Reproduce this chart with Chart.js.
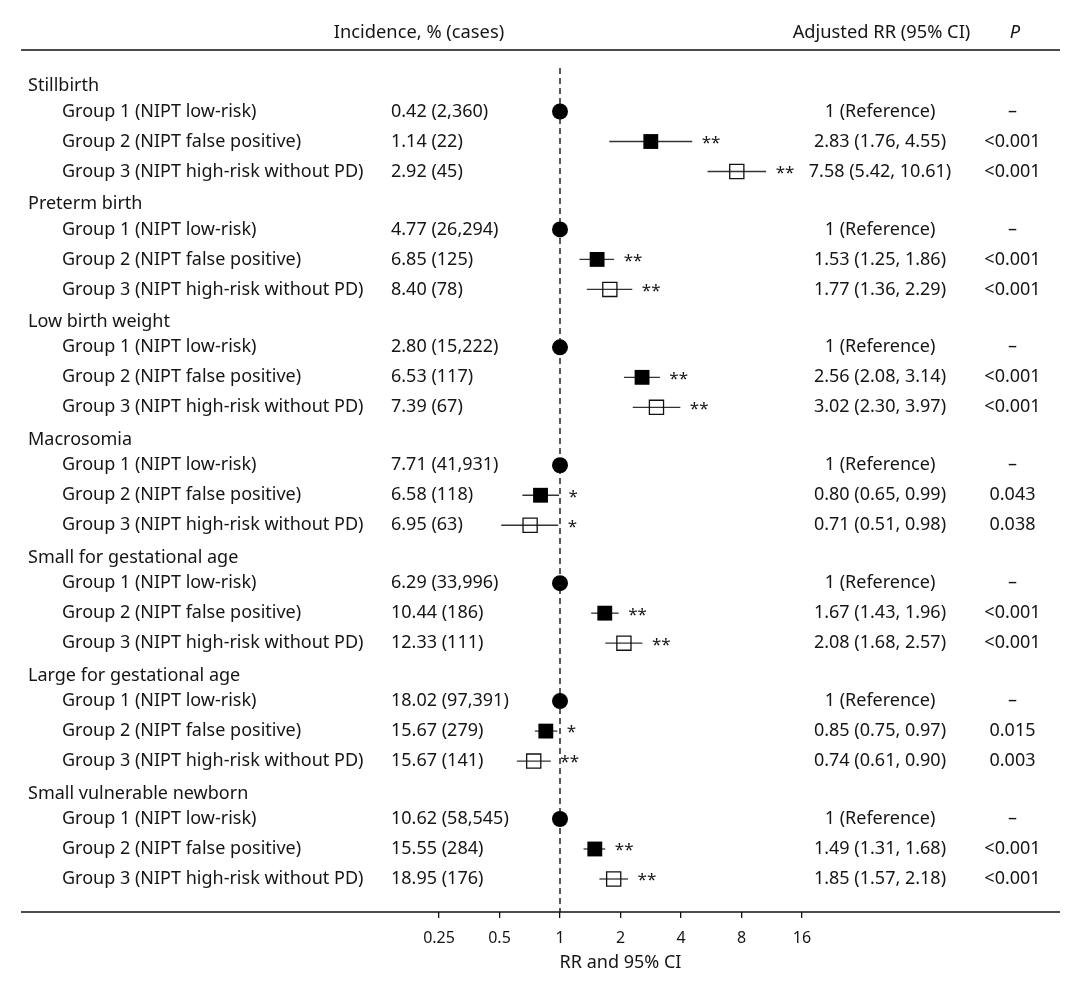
<!DOCTYPE html>
<html><head><meta charset="utf-8">
<script src="https://cdn.jsdelivr.net/npm/chart.js@4.4.1/dist/chart.umd.min.js"></script>
<style>html,body{margin:0;padding:0;background:#fff;}#wrap{width:1080px;height:987px;position:relative;}</style>
</head><body><div id="wrap"><canvas id="c" width="1080" height="987"></canvas></div>
<script>
// ---- data ----
const outcomes = ['Stillbirth','Preterm birth','Low birth weight','Macrosomia','Small for gestational age','Large for gestational age','Small vulnerable newborn'];
const groupLabels = ['Group 1 (NIPT low-risk)','Group 2 (NIPT false positive)','Group 3 (NIPT high-risk without PD)'];
const incG1 = [0.42, 4.77, 2.80, 7.71, 6.29, 18.02, 10.62];
const casesG1 = [2360, 26294, 15222, 41931, 33996, 97391, 58545];
const incG2 = [1.14, 6.85, 6.53, 6.58, 10.44, 15.67, 15.55];
const casesG2 = [22, 125, 117, 118, 186, 279, 284];
const incG3 = [2.92, 8.40, 7.39, 6.95, 12.33, 15.67, 18.95];
const casesG3 = [45, 78, 67, 63, 111, 141, 176];
const rrG2 = [2.83, 1.53, 2.56, 0.80, 1.67, 0.85, 1.49];
const loG2 = [1.76, 1.25, 2.08, 0.65, 1.43, 0.75, 1.31];
const hiG2 = [4.55, 1.86, 3.14, 0.99, 1.96, 0.97, 1.68];
const rrG3 = [7.58, 1.77, 3.02, 0.71, 2.08, 0.74, 1.85];
const loG3 = [5.42, 1.36, 2.30, 0.51, 1.68, 0.61, 1.57];
const hiG3 = [10.61, 2.29, 3.97, 0.98, 2.57, 0.90, 2.18];
const pG2 = ['<0.001','<0.001','<0.001','0.043','<0.001','0.015','<0.001'];
const pG3 = ['<0.001','<0.001','<0.001','0.038','<0.001','0.003','<0.001'];
const sigG2 = ['**','**','**','*','**','*','**'];
const sigG3 = ['**','**','**','*','**','**','**'];
const tickVals = [0.25, 0.5, 1, 2, 4, 8, 16];
const tickLabels = ['0.25','0.5','1','2','4','8','16'];

// ---- layout helpers ----
const FONT = '"Noto Sans", "DejaVu Sans", sans-serif';
const TXT = '#151515';
const BLOCK = 3.93, G_OFF = 0.85;
const headerY = b => b * BLOCK;
const groupY = (b, g) => b * BLOCK + G_OFF + g;
const fmtInc = (v, n) => v.toFixed(2) + ' (' + n.toLocaleString('en-US') + ')';
const fmtRR = (r, l, h) => r.toFixed(2) + ' (' + l.toFixed(2) + ', ' + h.toFixed(2) + ')';

const forestPlugin = {
  id: 'forest',
  beforeDatasetsDraw(chart) {
    const {ctx, chartArea, scales: {x, y}} = chart;
    ctx.save();
    // reference dashed line
    ctx.strokeStyle = '#222'; ctx.lineWidth = 1.5; ctx.setLineDash([6, 4]);
    const x1 = x.getPixelForValue(1);
    ctx.beginPath(); ctx.moveTo(x1, chartArea.top); ctx.lineTo(x1, chartArea.bottom); ctx.stroke();
    ctx.setLineDash([]);
    // CI whiskers
    ctx.strokeStyle = '#333'; ctx.lineWidth = 1.3;
    outcomes.forEach((_, b) => {
      [[loG2, hiG2, 1], [loG3, hiG3, 2]].forEach(([lo, hi, g]) => {
        const py = y.getPixelForValue(groupY(b, g));
        ctx.beginPath();
        ctx.moveTo(x.getPixelForValue(lo[b]), py);
        ctx.lineTo(x.getPixelForValue(hi[b]), py);
        ctx.stroke();
      });
    });
    ctx.restore();
  },
  afterDraw(chart) {
    const {ctx, chartArea, scales: {x, y}} = chart;
    ctx.save();
    ctx.fillStyle = TXT;
    ctx.textBaseline = 'middle';
    // header
    ctx.font = '18.3px ' + FONT;
    ctx.textAlign = 'center';
    ctx.fillText('Incidence, % (cases)', 419, 33);
    ctx.fillText('Adjusted RR (95% CI)', 881.5, 33);
    ctx.font = 'italic 18.3px ' + FONT;
    ctx.fillText('P', 1015, 33);
    // horizontal rules
    ctx.strokeStyle = '#111'; ctx.lineWidth = 1.6;
    ctx.beginPath(); ctx.moveTo(21, 50); ctx.lineTo(1060, 50); ctx.stroke();
    ctx.beginPath(); ctx.moveTo(21, chartArea.bottom); ctx.lineTo(1060, chartArea.bottom); ctx.stroke();
    // rows
    outcomes.forEach((name, b) => {
      ctx.font = '18px ' + FONT;
      ctx.textAlign = 'left';
      ctx.fillText(name, 28, y.getPixelForValue(headerY(b)));
      const incs = [fmtInc(incG1[b], casesG1[b]), fmtInc(incG2[b], casesG2[b]), fmtInc(incG3[b], casesG3[b])];
      const rrs = ['1 (Reference)', fmtRR(rrG2[b], loG2[b], hiG2[b]), fmtRR(rrG3[b], loG3[b], hiG3[b])];
      const ps = ['\u2013', pG2[b], pG3[b]];
      for (let g = 0; g < 3; g++) {
        const py = y.getPixelForValue(groupY(b, g));
        ctx.textAlign = 'left';
        ctx.fillText(groupLabels[g], 62, py);
        ctx.fillText(incs[g], 391, py);
        ctx.textAlign = 'center';
        ctx.fillText(rrs[g], 880, py);
        ctx.fillText(ps[g], 1012.5, py);
      }
      // significance stars
      ctx.textAlign = 'left';
      ctx.font = '17px ' + FONT;
      [[hiG2, sigG2, 1], [hiG3, sigG3, 2]].forEach(([hi, sig, g]) => {
        const py = y.getPixelForValue(groupY(b, g));
        ctx.fillText(sig[b], x.getPixelForValue(hi[b]) + 9.5, py + 1.5);
      });
    });
    ctx.restore();
  }
};

new Chart(document.getElementById('c'), {
  type: 'scatter',
  data: {
    datasets: [
      { label: 'Group 1', data: outcomes.map((_, b) => ({x: 1, y: groupY(b, 0)})),
        pointStyle: 'circle', pointRadius: 8, backgroundColor: '#000', borderWidth: 0 },
      { label: 'Group 2', data: outcomes.map((_, b) => ({x: rrG2[b], y: groupY(b, 1)})),
        pointStyle: 'rect', pointRadius: 10.5, backgroundColor: '#000', borderWidth: 0 },
      { label: 'Group 3', data: outcomes.map((_, b) => ({x: rrG3[b], y: groupY(b, 2)})),
        pointStyle: 'rect', pointRadius: 10, backgroundColor: 'rgba(0,0,0,0)', borderColor: '#111', borderWidth: 1.3 }
    ]
  },
  options: {
    responsive: false,
    animation: false,
    devicePixelRatio: 1,
    layout: { padding: { left: 439, right: 278, top: 68, bottom: 0 } },
    plugins: { legend: { display: false }, tooltip: { enabled: false } },
    scales: {
      x: {
        type: 'logarithmic', min: 0.25, max: 16,
        afterBuildTicks: s => { s.ticks = tickVals.map(v => ({value: v})); },
        afterFit: s => { s.height = 75; },
        grid: { drawOnChartArea: false, drawTicks: true, tickLength: 6, color: '#111', lineWidth: 1.3 },
        border: { display: false },
        ticks: { font: { family: FONT, size: 16 }, color: TXT, padding: 10.4, maxRotation: 0, autoSkip: false,
          callback: v => { const i = tickVals.indexOf(v); return i >= 0 ? tickLabels[i] : ''; } },
        title: { display: true, text: 'RR and 95% CI', font: { family: FONT, size: 18 }, color: TXT, padding: { top: 0, bottom: 13 } }
      },
      y: { type: 'linear', display: false, reverse: true, min: -0.6, max: 27.53 }
    }
  },
  plugins: [forestPlugin]
});
</script></body></html>
